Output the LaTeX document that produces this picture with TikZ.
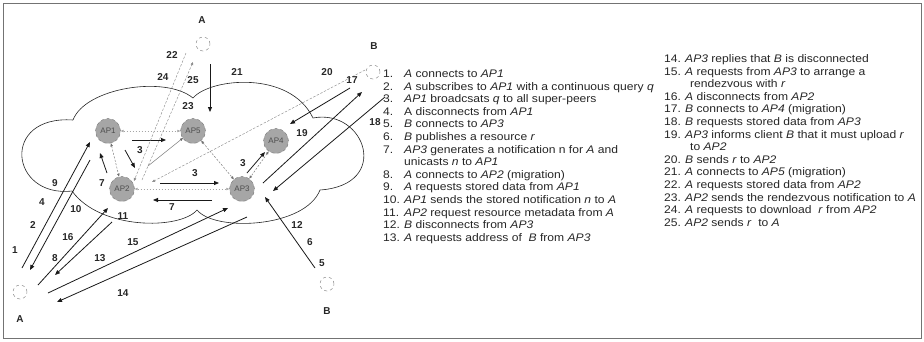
\documentclass[tikz,border=0pt]{standalone}
\usepackage{fontspec}
\setmainfont{Liberation Sans}
\newfontfamily\listfont[FakeStretch=1.1]{Liberation Sans}
\usetikzlibrary{arrows.meta}
\newcommand\litem[4]{\node[num] (n#1) at (#2,#3) {#1.};\node[itm] (t#1) at (#2+21,#3) {#4};}
\newcommand\arrw[5]{\coordinate (#1s) at (#2); \coordinate (#1e) at (#3); \draw[#4] (#1s) -- (#1e);}
\begin{document}
\begin{tikzpicture}[x=1pt,y=-1pt,
  ap/.style={circle,fill=black!35,draw=black!55,dashed,line width=0.4pt,minimum size=25pt,inner sep=0pt,font=\fontsize{8}{9}\selectfont,text=black!70},
  peer/.style={circle,draw=black!45,dashed,line width=0.5pt,minimum size=14pt,inner sep=0pt},
  lbl/.style={font=\fontsize{10}{11}\selectfont\bfseries,text=black!85,inner sep=0pt},
  num/.style={anchor=base west,inner sep=0pt,font=\listfont\fontsize{11}{12}\selectfont,text=black!85},
  itm/.style={anchor=base west,inner sep=0pt,font=\listfont\fontsize{11}{12}\selectfont,text=black!85},
  arr/.style={draw=black!90,line width=0.8pt,-{Triangle[length=5pt,width=4pt]}},
  darr/.style={draw=black!55,line width=0.45pt,dash pattern=on 2pt off 1.5pt,{Triangle[length=3pt,width=2.5pt]}-{Triangle[length=3pt,width=2.5pt]}},
  larr/.style={draw=black!35,line width=0.45pt,dash pattern=on 1.5pt off 1.5pt,{Triangle[length=3pt,width=2.5pt]}-{Triangle[length=3pt,width=2.5pt]}},
  sarr/.style={draw=black!45,line width=0.45pt,dash pattern=on 2.5pt off 1.5pt,-{Triangle[length=3pt,width=2.5pt]}},
  garr/.style={draw=black!60,line width=0.45pt,-{Triangle[length=3pt,width=2.5pt]}}]
\useasboundingbox (0,0) rectangle (924,341);
\draw[black!55,line width=0.8pt] (3,3) rectangle (921,338);
% cloud
\draw[black!85,line width=0.6pt] (73,120) .. controls (85,88) and (165,75) .. (193,98)
  .. controls (210,78) and (290,70) .. (313,118)
  .. controls (365,108) and (392,185) .. (320,190)
  .. controls (305,228) and (215,232) .. (197,210)
  .. controls (180,230) and (100,230) .. (72,191)
  .. controls (10,198) and (0,115) .. (73,120);
% peers
\node[peer] (Atop) at (203,44) {};
\node[peer] (Bright) at (373,72) {};
\node[peer] (Abl) at (20,292) {};
\node[peer] (Bbot) at (327,284) {};
\node[lbl] (lAtop) at (202,20) {A};
\node[lbl] (lBright) at (374,46) {B};
\node[lbl] (lAbl) at (20,319) {A};
\node[lbl] (lBbot) at (327,311) {B};
% APs
\node[ap] (AP1) at (108,131) {AP1};
\node[ap] (AP5) at (193,131) {AP5};
\node[ap] (AP4) at (276,141) {AP4};
\node[ap] (AP2) at (122,189) {AP2};
\node[ap] (AP3) at (242,189) {AP3};
% arrows
\arrw{a1}{22,268}{90,142}{arr}{}
\arrw{a2}{90,160}{30,270}{arr}{}
\arrw{a3}{38,285}{108,208}{arr}{}
\arrw{a4}{112,222}{55,275}{arr}{}
\arrw{a5}{48,293}{228,208}{arr}{}
\arrw{a6}{247,217}{57,302}{arr}{}
\arrw{a7}{315,268}{265,197}{arr}{}
\arrw{a8}{385,97}{273,191}{arr}{}
\arrw{a9}{263,183}{362,92}{arr}{}
\arrw{a10}{350,88}{290,124}{arr}{}
\arrw{a11}{210,64}{210,112}{arr}{}
\arrw{a12}{132,140}{166,140}{arr}{}
\arrw{a13}{125,150}{135,168}{arr}{}
\arrw{a14}{160,183}{219,183}{arr}{}
\arrw{a15}{212,200}{153,200}{arr}{}
\arrw{a16}{107,173}{100,153}{arr}{}
\arrw{a17}{247,173}{265,152}{arr}{}
\arrw{g1}{148,166}{183,138}{garr}{}
\arrw{d6}{365,70}{152,182}{sarr}{}
\arrw{d7}{186,53}{134,181}{sarr}{}
\arrw{d8}{142,180}{193,62}{sarr}{}
\draw[larr] (AP1) -- (AP5);
\draw[darr] (AP1) -- (AP2);
\draw[darr] (AP5) -- (AP3);
\draw[darr] (AP4) -- (AP3);
\draw[larr] (AP2) -- (AP3);
% numbers
\node[lbl] (L1) at (15,250) {1};
\node[lbl] (L2) at (33,225) {2};
\node[lbl] (L4) at (42,202) {4};
\node[lbl] (L9) at (55,183) {9};
\node[lbl] (L10) at (76,209) {10};
\node[lbl] (L16) at (68,237) {16};
\node[lbl] (L8) at (55,258) {8};
\node[lbl] (L13) at (100,258) {13};
\node[lbl] (L15) at (133,242) {15};
\node[lbl] (L14) at (123,293) {14};
\node[lbl] (L11) at (123,216) {11};
\node[lbl] (L12) at (297,225) {12};
\node[lbl] (L6) at (310,242) {6};
\node[lbl] (L5) at (322,263) {5};
\node[lbl] (L7a) at (102,183) {7};
\node[lbl] (L7b) at (172,207) {7};
\node[lbl] (L3a) at (140,150) {3};
\node[lbl] (L3b) at (195,173) {3};
\node[lbl] (L3c) at (243,163) {3};
\node[lbl] (L19) at (302,133) {19};
\node[lbl] (L18) at (375,122) {18};
\node[lbl] (L17) at (352,80) {17};
\node[lbl] (L20) at (327,72) {20};
\node[lbl] (L21) at (237,72) {21};
\node[lbl] (L22) at (172,55) {22};
\node[lbl] (L24) at (163,77) {24};
\node[lbl] (L25) at (193,80) {25};
\node[lbl] (L23) at (188,106) {23};
% list column 1
\litem{1}{383}{77.5}{\emph{A} connects to \emph{AP1}}
\litem{2}{383}{90.1}{\emph{A} subscribes to \emph{AP1} with a continuous query \emph{q}}
\litem{3}{383}{102.7}{\emph{AP1} broadcsats \emph{q} to all super-peers}
\litem{4}{383}{115.3}{A disconnects from \emph{AP1}}
\litem{5}{383}{127.9}{\emph{B} connects to \emph{AP3}}
\litem{6}{383}{140.5}{\emph{B} publishes a resource \emph{r}}
\litem{7}{383}{153.1}{\emph{AP3} generates a notification n for \emph{A} and}
\node[itm] (t7b) at (404,165.7) {unicasts \emph{n} to \emph{AP1}};
\litem{8}{383}{178.3}{\emph{A} connects to \emph{AP2} (migration)}
\litem{9}{383}{190.9}{\emph{A} requests stored data from \emph{AP1}}
\litem{10}{383}{203.5}{\emph{AP1} sends the stored notification \emph{n} to \emph{A}}
\litem{11}{383}{216.1}{\emph{AP2} request resource metadata from \emph{A}}
\litem{12}{383}{228.7}{\emph{B} disconnects from \emph{AP3}}
\litem{13}{383}{241.3}{\emph{A} requests address of \ \emph{B} from \emph{AP3}}
% list column 2
\litem{14}{664}{62.5}{\emph{AP3} replies that \emph{B} is disconnected}
\litem{15}{664}{75.1}{\emph{A} requests from \emph{AP3} to arrange a}
\node[itm] (t15b) at (690,87.7) {rendezvous with \emph{r}};
\litem{16}{664}{100.3}{\emph{A} disconnects from \emph{AP2}}
\litem{17}{664}{112.9}{\emph{B} connects to \emph{AP4} (migration)}
\litem{18}{664}{125.5}{\emph{B} requests stored data from \emph{AP3}}
\litem{19}{664}{138.1}{\emph{AP3} informs client \emph{B} that it must upload \emph{r}}
\node[itm] (t19b) at (690,150.7) {to \emph{AP2}};
\litem{20}{664}{163.3}{\emph{B} sends \emph{r} to \emph{AP2}}
\litem{21}{664}{175.9}{\emph{A} connects to \emph{AP5} (migration)}
\litem{22}{664}{188.5}{\emph{A} requests stored data from \emph{AP2}}
\litem{23}{664}{201.1}{\emph{AP2} sends the rendezvous notification to \emph{A}}
\litem{24}{664}{213.7}{\emph{A} requests to download \ \emph{r} from \emph{AP2}}
\litem{25}{664}{226.3}{\emph{AP2} sends \emph{r} \ to \emph{A}}
\end{tikzpicture}
\end{document}
